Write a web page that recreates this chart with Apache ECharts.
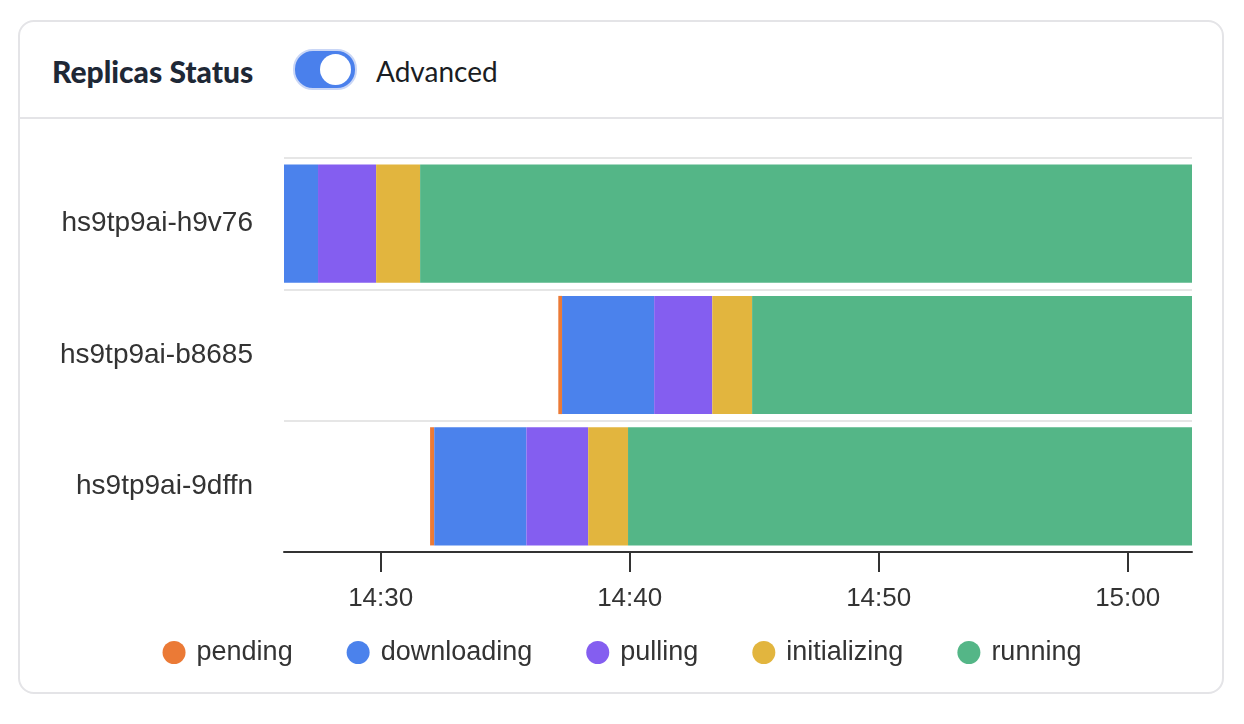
<!DOCTYPE html>
<html>
<head>
<meta charset="utf-8">
<script src="https://cdn.jsdelivr.net/npm/echarts@6/dist/echarts.min.js"></script>
<style>
  html, body { margin: 0; padding: 0; background: #ffffff; width: 1244px; height: 724px; overflow: hidden; }
  #card { position: absolute; left: 18px; top: 20px; width: 1202px; height: 670px; border: 2px solid #e4e4e7; border-radius: 16px; background: #fff; }
  #header { position: absolute; left: 0; top: 0; width: 100%; height: 95px; border-bottom: 2px solid #e4e4e7; }
  #title { position: absolute; left: 32px; top: 30px; font-family: Lato, "Open Sans", sans-serif; font-weight: 900; font-size: 30px; color: #1e2836; line-height: 38px; white-space: nowrap; }
  #toggle { position: absolute; left: 273px; top: 27px; width: 60px; height: 37px; border-radius: 20px; background: #4a80ec; border: 2px solid #c9d6f6; box-sizing: content-box; }
  #knob { position: absolute; left: 25px; top: 3px; width: 31px; height: 31px; border-radius: 50%; background: #fff; }
  #adv { position: absolute; left: 356px; top: 31px; font-family: Lato, "Open Sans", sans-serif; font-weight: 400; font-size: 28px; color: #1a1d23; line-height: 36px; white-space: nowrap; }
  #chart { position: absolute; left: 0; top: 0; width: 1244px; height: 724px; }
</style>
</head>
<body>
<div id="card">
  <div id="header">
    <div id="title">Replicas Status</div>
    <div id="toggle"><div id="knob"></div></div>
    <div id="adv">Advanced</div>
  </div>
</div>
<div id="chart"></div>
<script>
// ---- data ----
const replicas = ['hs9tp9ai-h9v76', 'hs9tp9ai-b8685', 'hs9tp9ai-9dffn'];
const statuses = ['pending', 'downloading', 'pulling', 'initializing', 'running'];
const statusColors = ['#EB7A36', '#4B82EC', '#845EF0', '#E2B53E', '#54B687'];
const pendingStart      = ['14:26:07', '14:37:08', '14:31:59'];
const downloadingStart  = ['14:26:07', '14:37:17', '14:32:09'];
const pullingStart      = ['14:27:29', '14:40:59', '14:35:51'];
const initializingStart = ['14:29:49', '14:43:19', '14:38:20'];
const runningStart      = ['14:31:35', '14:44:55', '14:39:56'];
const endTime = '15:02:35';
const axisStart = '14:26:07';
const tickLabels = ['14:30', '14:40', '14:50', '15:00'];

// time string -> seconds since midnight
function toSec(t) {
  const p = t.split(':').map(Number);
  return p[0] * 3600 + p[1] * 60 + (p[2] || 0);
}
function fmt(sec) {
  const h = Math.floor(sec / 3600);
  const m = Math.round((sec - h * 3600) / 60);
  return String(h).padStart(2, '0') + ':' + String(m).padStart(2, '0');
}
const starts = [pendingStart, downloadingStart, pullingStart, initializingStart, runningStart];
const tickValues = tickLabels.map(toSec);

const series = statuses.map((name, si) => {
  const data = replicas.map((r, ri) => {
    const s = toSec(starts[si][ri]);
    const e = si < starts.length - 1 ? toSec(starts[si + 1][ri]) : toSec(endTime);
    return [ri, s, e];
  });
  return {
    name: name,
    type: 'custom',
    itemStyle: { color: statusColors[si] },
    encode: { x: [1, 2], y: 0 },
    renderItem: function (params, api) {
      const cat = api.value(0);
      const a = api.coord([api.value(1), cat]);
      const b = api.coord([api.value(2), cat]);
      const h = api.size([0, 1])[1] * 0.9;
      return {
        type: 'rect',
        shape: { x: a[0], y: a[1] - h / 2, width: Math.max(0, b[0] - a[0]), height: h },
        style: api.style()
      };
    },
    data: data
  };
});

const chart = echarts.init(document.getElementById('chart'), null, { renderer: 'canvas' });
chart.setOption({
  animation: false,
  textStyle: { fontFamily: '"Liberation Sans", Arial, sans-serif' },
  grid: { left: 284, right: 52, top: 158, bottom: 172, containLabel: false },
  legend: {
    data: statuses,
    left: 'center',
    top: 634,
    icon: 'circle',
    itemWidth: 35,
    itemHeight: 23,
    itemGap: 54,
    textStyle: { fontSize: 27, color: '#333333' }
  },
  xAxis: {
    type: 'value',
    min: toSec(axisStart),
    max: toSec(endTime),
    axisLine: { show: true, lineStyle: { color: '#333333', width: 2 } },
    axisTick: { show: true, length: 20, customValues: tickValues, lineStyle: { color: '#333333', width: 2 } },
    minorTick: { show: false },
    splitLine: { show: false },
    axisLabel: {
      fontSize: 26,
      color: '#333333',
      margin: 34,
      customValues: tickValues,
      formatter: function (v) { return fmt(v); }
    }
  },
  yAxis: {
    type: 'category',
    inverse: true,
    data: replicas,
    axisLine: { show: false },
    axisTick: { show: false },
    splitLine: { show: true, lineStyle: { color: '#e6e6e6', width: 2 } },
    axisLabel: { fontSize: 28, color: '#333333', margin: 31 }
  },
  series: series
});
</script>
</body>
</html>
